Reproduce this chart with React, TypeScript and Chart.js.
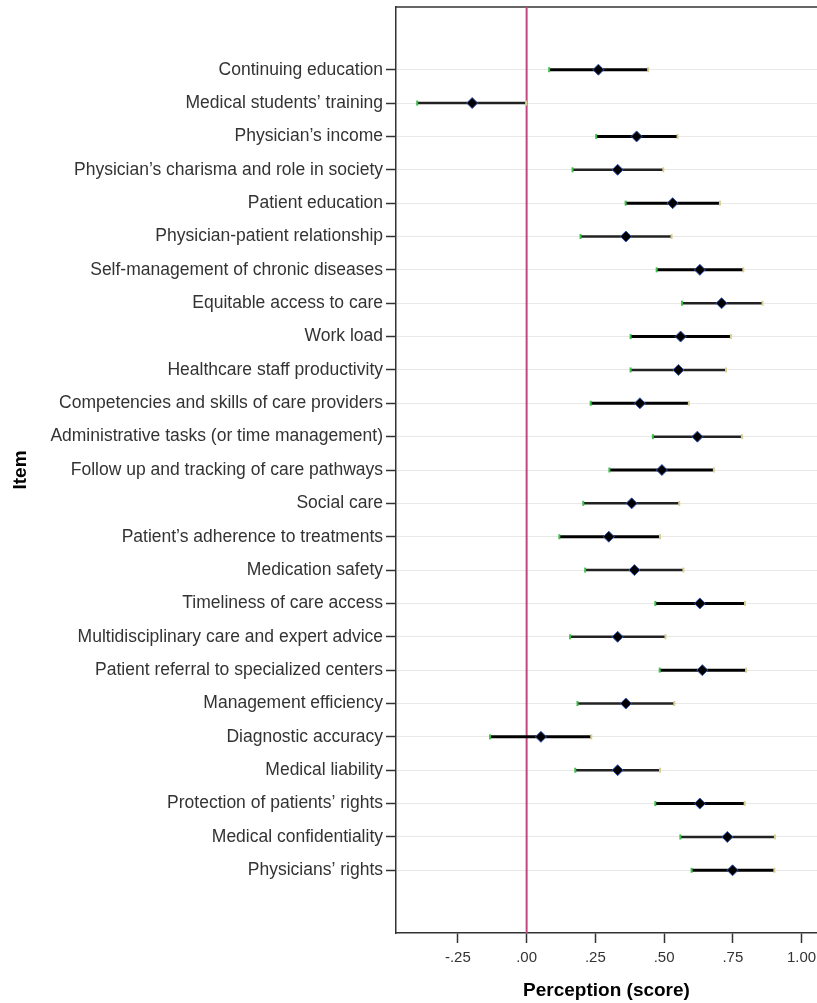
import React, { useEffect, useRef } from "react";
import { Chart, registerables } from "chart.js";

Chart.register(...registerables);

const items = [
  "Continuing education",
  "Medical students\u2019 training",
  "Physician\u2019s income",
  "Physician\u2019s charisma and role in society",
  "Patient education",
  "Physician-patient relationship",
  "Self-management of chronic diseases",
  "Equitable access to care",
  "Work load",
  "Healthcare staff productivity",
  "Competencies and skills of care providers",
  "Administrative tasks (or time management)",
  "Follow up and tracking of care pathways",
  "Social care",
  "Patient\u2019s adherence to treatments",
  "Medication safety",
  "Timeliness of care access",
  "Multidisciplinary care and expert advice",
  "Patient referral to specialized centers",
  "Management efficiency",
  "Diagnostic accuracy",
  "Medical liability",
  "Protection of patients\u2019 rights",
  "Medical confidentiality",
  "Physicians\u2019 rights",
];

const means = [
  0.261, -0.198, 0.4, 0.331, 0.531, 0.361, 0.63, 0.709, 0.56, 0.552, 0.412, 0.621,
  0.492, 0.382, 0.299, 0.392, 0.63, 0.331, 0.639, 0.361, 0.052, 0.331, 0.63, 0.73, 0.749,
];

const lowerCI = [
  0.082, -0.398, 0.253, 0.167, 0.36, 0.196, 0.473, 0.565, 0.378, 0.378, 0.233, 0.459,
  0.301, 0.206, 0.119, 0.213, 0.468, 0.158, 0.484, 0.185, -0.133, 0.177, 0.468, 0.559, 0.6,
];

const upperCI = [
  0.442, -0.002, 0.549, 0.497, 0.703, 0.527, 0.788, 0.858, 0.743, 0.725, 0.59, 0.783,
  0.681, 0.555, 0.485, 0.57, 0.794, 0.505, 0.798, 0.537, 0.235, 0.485, 0.793, 0.903, 0.901,
];

const xTicks = [-0.25, 0, 0.25, 0.5, 0.75, 1.0];
const referenceValue = 0;

const formatTick = (v: number) => {
  const s = Number(v).toFixed(2);
  return s.replace(/^(-?)0\./, "$1.");
};

const zeroPad = () => ({ left: 0, top: 0, right: 0, bottom: 0 });

const errorBarPlugin = {
  id: "errorBars",
  beforeDatasetsDraw(chart: any) {
    const { ctx, chartArea, scales } = chart;
    const xs = scales.x;
    const ys = scales.y;
    ctx.save();
    // top frame
    ctx.strokeStyle = "#333";
    ctx.lineWidth = 1.5;
    ctx.beginPath();
    ctx.moveTo(chartArea.left, chartArea.top);
    ctx.lineTo(chartArea.right, chartArea.top);
    ctx.stroke();
    // reference line
    const rx = xs.getPixelForValue(referenceValue);
    ctx.strokeStyle = "#c4467f";
    ctx.lineWidth = 2;
    ctx.beginPath();
    ctx.moveTo(rx, chartArea.top);
    ctx.lineTo(rx, chartArea.bottom);
    ctx.stroke();
    // error bars
    for (let i = 0; i < items.length; i++) {
      const y = ys.getPixelForValue(i);
      const x1 = xs.getPixelForValue(lowerCI[i]);
      const x2 = xs.getPixelForValue(upperCI[i]);
      const odd = i % 2 === 0;
      ctx.strokeStyle = odd ? "#000" : "#222";
      ctx.lineWidth = odd ? 3 : 2.5;
      ctx.beginPath();
      ctx.moveTo(x1, y);
      ctx.lineTo(x2, y);
      ctx.stroke();
      ctx.lineWidth = 2;
      ctx.strokeStyle = "#3cc04a";
      ctx.beginPath();
      ctx.moveTo(x1, y - 2.5);
      ctx.lineTo(x1, y + 2.5);
      ctx.stroke();
      ctx.strokeStyle = "#d8cf94";
      ctx.beginPath();
      ctx.moveTo(x2, y - 2.5);
      ctx.lineTo(x2, y + 2.5);
      ctx.stroke();
    }
    ctx.restore();
  },
};

export default function App() {
  const ref = useRef<HTMLCanvasElement | null>(null);

  useEffect(() => {
    if (!ref.current) return;
    const chart = new Chart(ref.current, {
      type: "scatter",
      data: {
        datasets: [
          {
            data: means.map((m, i) => ({ x: m, y: i })),
            pointStyle: "rectRot",
            pointRadius: 5.5,
            backgroundColor: "#000",
            borderColor: "#3658b8",
            borderWidth: 1,
            showLine: false,
          },
        ],
      },
      options: {
        animation: false,
        responsive: false,
        devicePixelRatio: 1,
        layout: { autoPadding: false, padding: { top: 7, left: 0, right: 0, bottom: 0 } },
        plugins: {
          legend: { display: false },
          tooltip: { enabled: false },
        },
        scales: {
          x: {
            type: "linear",
            min: -0.475,
            max: 1.056,
            afterBuildTicks: (scale: any) => {
              scale.ticks = xTicks.map((v) => ({ value: v }));
            },
            afterFit: (scale: any) => {
              scale.height = 70;
              scale.paddingLeft = 0;
              scale.paddingRight = 0;
              scale.getPadding = zeroPad;
            },
            ticks: {
              callback: (v: any) => formatTick(v),
              font: { family: "Liberation Sans", size: 15 },
              color: "#333",
              padding: 6,
              maxRotation: 0,
            },
            grid: {
              drawOnChartArea: false,
              drawTicks: true,
              tickLength: 10,
              tickColor: "#333",
              tickWidth: 1.5,
            },
            border: { display: true, color: "#333", width: 1.5 },
            title: {
              display: true,
              text: "Perception (score)",
              font: { family: "Liberation Sans", size: 19, weight: "bold" },
              color: "#000",
              padding: { top: 0, bottom: 1 },
            },
          },
          y: {
            type: "linear",
            reverse: true,
            min: -1.88,
            max: 25.88,
            afterBuildTicks: (scale: any) => {
              scale.ticks = items.map((_, i) => ({ value: i }));
            },
            afterFit: (scale: any) => {
              scale.width = 396;
              scale.paddingTop = 0;
              scale.paddingBottom = 0;
              scale.getPadding = zeroPad;
            },
            ticks: {
              autoSkip: false,
              callback: (v: any) => items[v] ?? "",
              font: { family: "Liberation Sans", size: 17.5 },
              color: "#333",
              padding: 3,
            },
            grid: {
              color: "#e8e8e8",
              lineWidth: 1,
              drawTicks: true,
              tickLength: 10,
              tickColor: "#333",
              tickWidth: 1.5,
            },
            border: { display: true, color: "#333", width: 1.5 },
            title: {
              display: true,
              text: "Item",
              font: { family: "Liberation Sans", size: 19, weight: "bold" },
              color: "#000",
              padding: { top: 9, bottom: 0 },
            },
          },
        },
      },
      plugins: [errorBarPlugin],
    } as any);
    return () => chart.destroy();
  }, []);

  return (
    <div style={{ position: "absolute", left: 0, top: 0, width: 817, height: 1003, background: "#fff" }}>
      <canvas ref={ref} width={817} height={1003} style={{ display: "block" }} />
    </div>
  );
}
